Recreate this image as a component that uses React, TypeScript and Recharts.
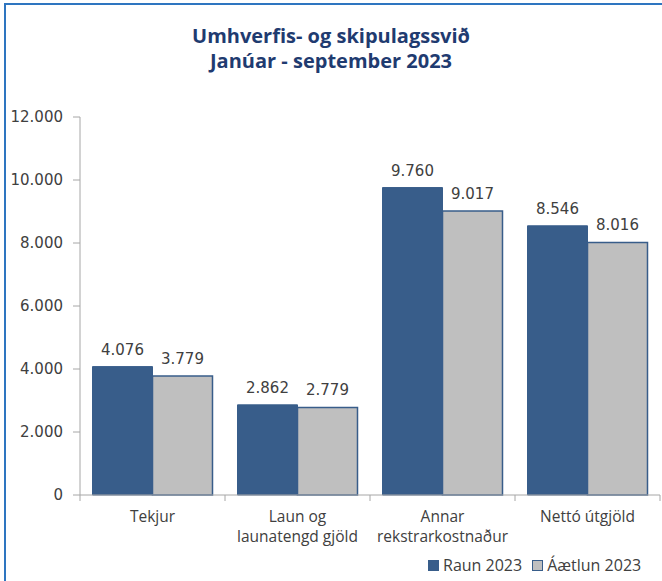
import { BarChart, Bar, XAxis, YAxis, LabelList, Legend } from 'recharts';

const categories = ['Tekjur', 'Laun og\nlaunatengd gjöld', 'Annar\nrekstrarkostnaður', 'Nettó útgjöld'];
const raun2023 = [4076, 2862, 9760, 8546];
const aaetlun2023 = [3779, 2779, 9017, 8016];
const yTicks = [0, 2000, 4000, 6000, 8000, 10000, 12000];

const data = categories.map((name, i) => ({
    name,
    raun: raun2023[i],
    aaetlun: aaetlun2023[i],
}));

const BLUE = '#385D8A';
const GRAY = '#BFBFBF';
const TEXT = '#404040';
const AXIS = '#A6A6A6';

// punktur sem þúsundaskil
const fmt = (v: number) => String(v).replace(/\B(?=(\d{3})+(?!\d))/g, '.');

const CategoryTick = ({ x, y, payload }: any) => {
    const half = payload?.offset || 72.5;
    const lines = String(payload.value).split('\n');
    return (
        <g>
            <line x1={x - half} y1={y - 8} x2={x - half} y2={y - 2} stroke={AXIS} />
            {payload.index === categories.length - 1 && (
                <line x1={x + half} y1={y - 8} x2={x + half} y2={y - 2} stroke={AXIS} />
            )}
            {lines.map((line: string, i: number) => (
                <text
                    key={i}
                    x={x}
                    y={y + 19 + i * 20}
                    textAnchor="middle"
                    fill={TEXT}
                    fontSize={15.5}
                    fontFamily="'Open Sans', sans-serif"
                >
                    {line}
                </text>
            ))}
        </g>
    );
};

const LegendContent = () => (
    <div
        style={{
            display: 'flex',
            alignItems: 'center',
            fontFamily: "'Open Sans', sans-serif",
            fontSize: 16,
            color: TEXT,
            whiteSpace: 'nowrap',
        }}
    >
        <span style={{ width: 11, height: 11, background: BLUE, marginRight: 4 }} />
        <span style={{ marginRight: 10 }}>Raun 2023</span>
        <span
            style={{
                width: 9,
                height: 9,
                background: GRAY,
                border: `1px solid ${BLUE}`,
                marginRight: 4,
            }}
        />
        <span>Áætlun 2023</span>
    </div>
);

export default function App() {
    return (
        <div
            style={{
                position: 'absolute',
                left: 0,
                top: 0,
                width: 662,
                height: 581,
                background: '#fff',
                overflow: 'hidden',
            }}
        >
            <div
                style={{
                    position: 'absolute',
                    left: 4,
                    top: 3,
                    width: 700,
                    height: 700,
                    borderLeft: '2px solid #2E75C0',
                    borderTop: '2px solid #2E75C0',
                }}
            />
            <div
                style={{
                    position: 'absolute',
                    left: 0,
                    top: 23,
                    width: 662,
                    textAlign: 'center',
                    fontFamily: "'Open Sans', sans-serif",
                    fontWeight: 700,
                    fontSize: 20,
                    lineHeight: '25px',
                    color: '#1F3B70',
                }}
            >
                Umhverfis- og skipulagssvið
                <br />
                Janúar - september 2023
            </div>
            <div style={{ position: 'absolute', left: 0, top: 0 }}>
                <BarChart
                    width={662}
                    height={581}
                    data={data}
                    margin={{ top: 117, right: 2, left: 0, bottom: 26 }}
                    barCategoryGap={12.5}
                    barGap={0}
                >
                    <XAxis
                        dataKey="name"
                        height={60}
                        stroke={AXIS}
                        tickLine={false}
                        interval={0}
                        tick={<CategoryTick />}
                    />
                    <YAxis
                        width={80}
                        domain={[0, 12000]}
                        ticks={yTicks}
                        interval={0}
                        stroke={AXIS}
                        tickSize={7}
                        tickMargin={10}
                        tickFormatter={fmt}
                        tick={{ fill: TEXT, fontSize: 15, fontFamily: "'DejaVu Sans', sans-serif" }}
                    />
                    <Legend
                        layout="horizontal"
                        verticalAlign="middle"
                        align="center"
                        content={<LegendContent />}
                        wrapperStyle={{ position: 'absolute', left: 428, top: 554, width: 240 }}
                    />
                    <Bar dataKey="raun" name="Raun 2023" fill={BLUE} stroke={BLUE} isAnimationActive={false}>
                        <LabelList
                            dataKey="raun"
                            position="top"
                            offset={12}
                            formatter={(v: any) => fmt(v)}
                            fill={TEXT}
                            fontSize={15}
                            fontFamily="'DejaVu Sans', sans-serif"
                        />
                    </Bar>
                    <Bar
                        dataKey="aaetlun"
                        name="Áætlun 2023"
                        fill={GRAY}
                        stroke={BLUE}
                        strokeWidth={1.5}
                        isAnimationActive={false}
                    >
                        <LabelList
                            dataKey="aaetlun"
                            position="top"
                            offset={12}
                            formatter={(v: any) => fmt(v)}
                            fill={TEXT}
                            fontSize={15}
                            fontFamily="'DejaVu Sans', sans-serif"
                        />
                    </Bar>
                </BarChart>
            </div>
        </div>
    );
}
